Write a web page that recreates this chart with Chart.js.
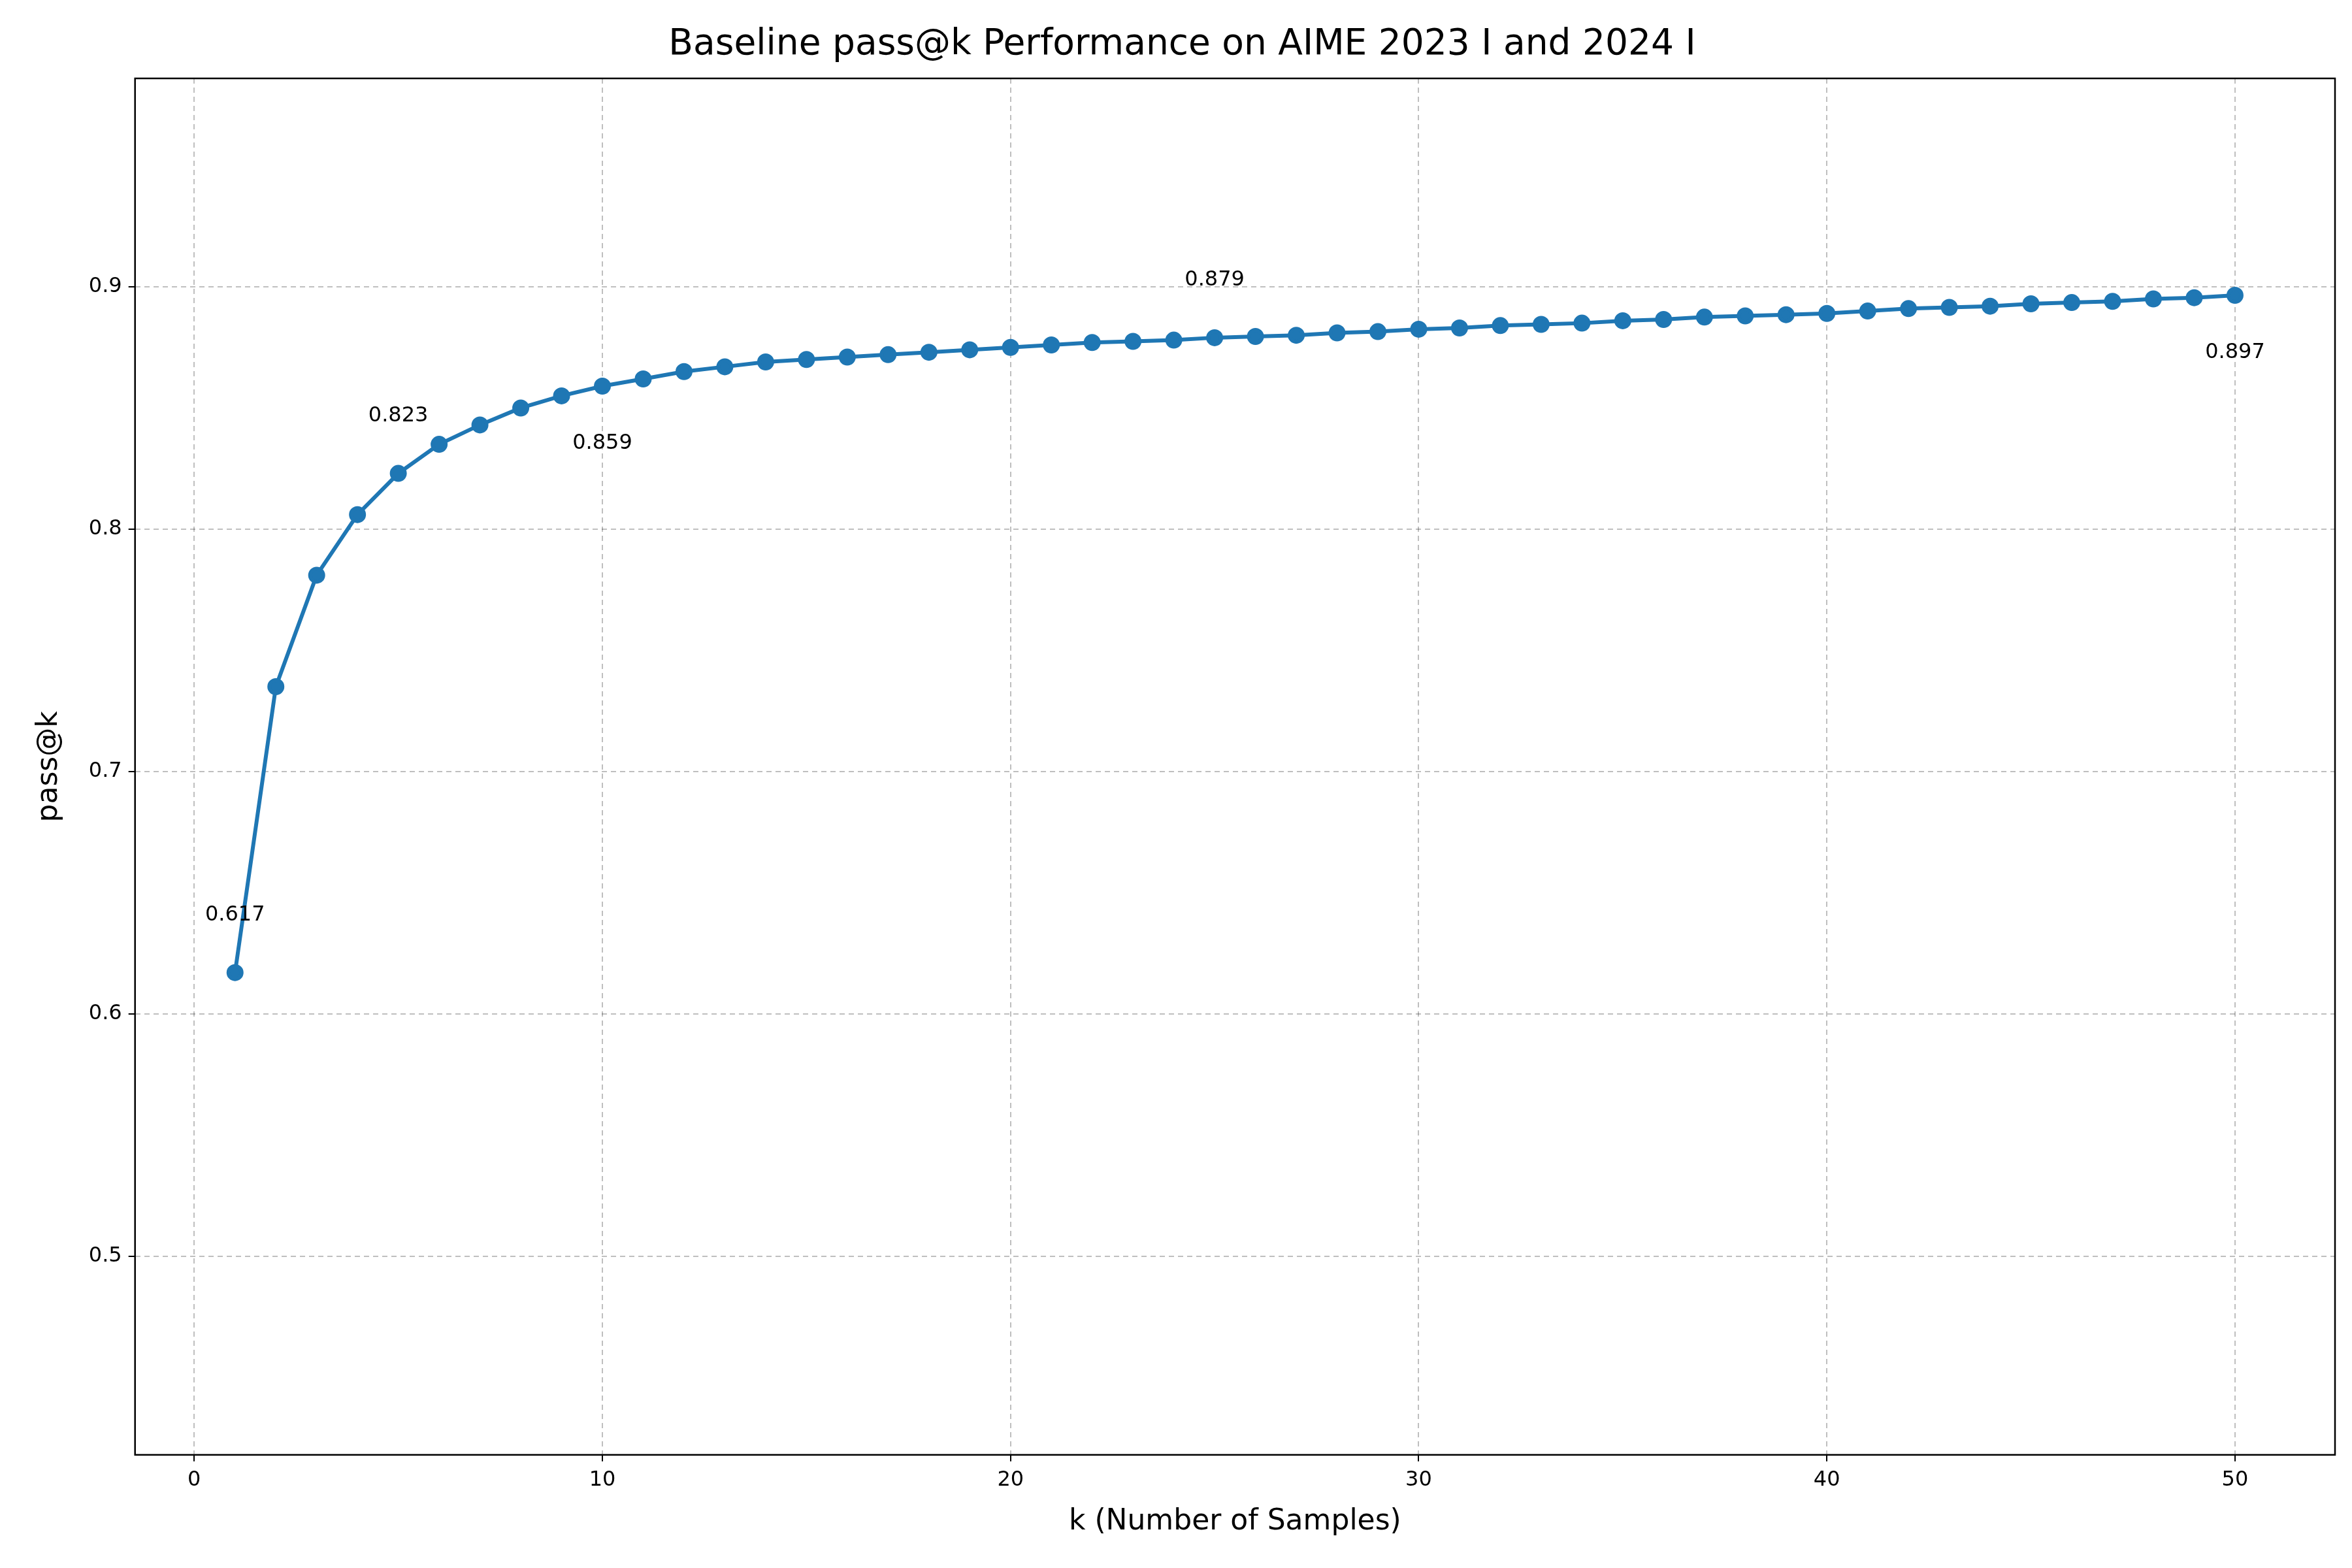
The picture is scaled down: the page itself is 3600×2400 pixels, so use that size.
<!DOCTYPE html>
<html>
<head>
<meta charset="utf-8">
<script src="https://cdn.jsdelivr.net/npm/chart.js@4"></script>
<style>
  body { margin: 0; background: #fff; }
  canvas { display: block; }
</style>
</head>
<body>
<canvas id="c" width="3600" height="2400"></canvas>
<script>
'use strict';

// k = 1..50
const ks = [];
for (let k = 1; k <= 50; k++) ks.push(k);

const passAtK = [
    0.617, 0.735, 0.781, 0.806, 0.823, 0.835, 0.843, 0.850, 0.855, 0.859,
    0.862, 0.865, 0.867, 0.869, 0.870, 0.871, 0.872, 0.873, 0.874, 0.875,
    0.876, 0.877, 0.8775, 0.878, 0.879, 0.8795, 0.880, 0.881, 0.8815, 0.8825,
    0.883, 0.884, 0.8845, 0.885, 0.886, 0.8865, 0.8875, 0.888, 0.8885, 0.889,
    0.890, 0.891, 0.8915, 0.892, 0.893, 0.8935, 0.894, 0.895, 0.8955, 0.8965,
];

// подписанные точки: k, текст, смещение (-1 выше, +1 ниже)
const labelKs = [1, 5, 10, 25, 50];
const labelTexts = ['0.617', '0.823', '0.859', '0.879', '0.897'];
const labelSides = [-1, -1, 1, -1, 1];

const FONT = 'DejaVu Sans';
const BLUE = '#1f77b4';

const annotations = {
    id: 'annotations',
    afterDatasetsDraw(chart) {
        const { ctx, scales, chartArea } = chart;
        ctx.save();
        ctx.font = `32px "${FONT}"`;
        ctx.fillStyle = '#000';
        ctx.textAlign = 'center';
        ctx.textBaseline = 'middle';
        labelKs.forEach((k, i) => {
            const x = scales.x.getPixelForValue(k);
            const y = scales.y.getPixelForValue(passAtK[k - 1]);
            ctx.fillText(labelTexts[i], x, y + labelSides[i] * 88);
        });
        // рамка вокруг области графика
        ctx.strokeStyle = '#000';
        ctx.lineWidth = 2.5;
        ctx.strokeRect(chartArea.left, chartArea.top,
            chartArea.right - chartArea.left, chartArea.bottom - chartArea.top);
        ctx.restore();
    },
};

const gridCfg = {
    color: 'rgba(0,0,0,0.25)',
    lineWidth: 2,
    drawTicks: true,
    tickColor: '#000',
    tickLength: 10,
    tickBorderDash: [],
};

new Chart(document.getElementById('c').getContext('2d'), {
    type: 'scatter',
    data: {
        datasets: [{
            data: ks.map((k, i) => ({ x: k, y: passAtK[i] })),
            showLine: true,
            borderColor: BLUE,
            backgroundColor: BLUE,
            borderWidth: 6,
            pointRadius: 10,
            pointHoverRadius: 10,
            tension: 0,
        }],
    },
    options: {
        responsive: false,
        devicePixelRatio: 1,
        animation: false,
        layout: { padding: { left: 45, right: 26, top: 16, bottom: 40 } },
        plugins: {
            legend: { display: false },
            tooltip: { enabled: false },
            title: {
                display: true,
                text: 'Baseline pass@k Performance on AIME 2023 I and 2024 I',
                color: '#000',
                font: { family: FONT, size: 55, weight: 'normal' },
                padding: { top: 20, bottom: 18 },
            },
        },
        scales: {
            x: {
                type: 'linear',
                min: -1.45,
                max: 52.45,
                afterBuildTicks(axis) {
                    axis.ticks = [0, 10, 20, 30, 40, 50].map((v) => ({ value: v }));
                },
                border: { display: false, dash: [8, 6] },
                grid: gridCfg,
                ticks: { color: '#000', font: { family: FONT, size: 32 }, padding: 10 },
                title: {
                    display: true,
                    text: 'k (Number of Samples)',
                    color: '#000',
                    font: { family: FONT, size: 44 },
                    padding: { top: 8 },
                },
            },
            y: {
                type: 'linear',
                min: 0.418,
                max: 0.986,
                afterBuildTicks(axis) {
                    axis.ticks = [0.5, 0.6, 0.7, 0.8, 0.9].map((v) => ({ value: v }));
                },
                border: { display: false, dash: [8, 6] },
                grid: gridCfg,
                ticks: {
                    color: '#000',
                    font: { family: FONT, size: 32 },
                    padding: 10,
                    callback: (v) => v.toFixed(1),
                },
                title: {
                    display: true,
                    text: 'pass@k',
                    color: '#000',
                    font: { family: FONT, size: 44 },
                    padding: { bottom: 24 },
                },
            },
        },
    },
    plugins: [annotations],
});
</script>
</body>
</html>
